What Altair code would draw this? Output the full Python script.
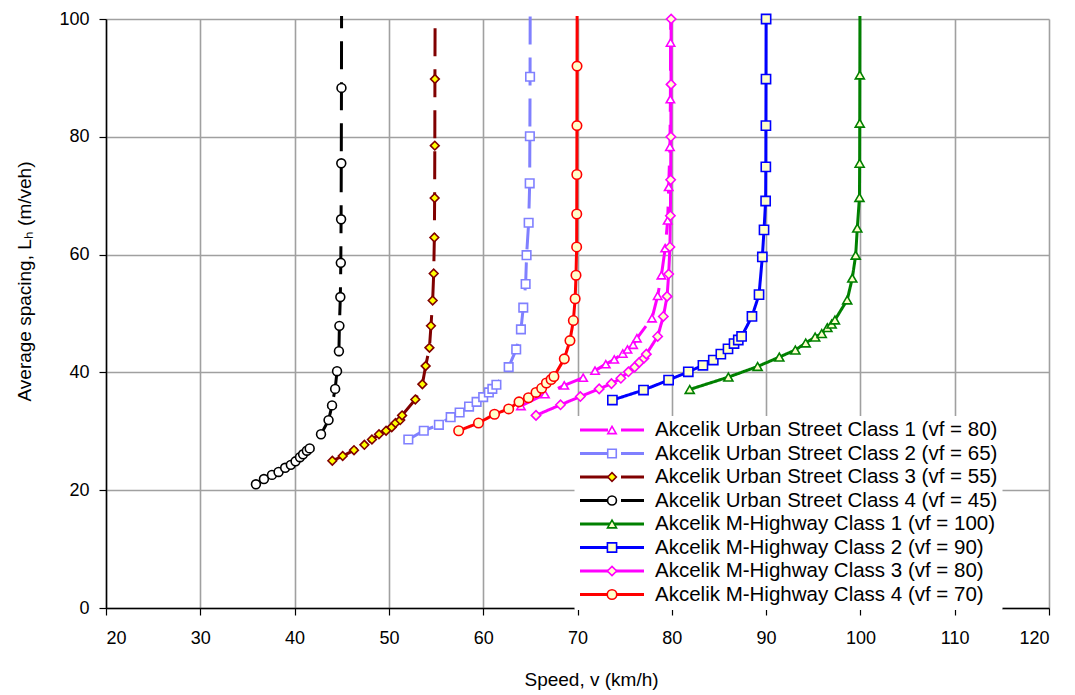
import altair as alt
import pandas as pd

# ---- series (legend order) ----
series = [
    "Akcelik Urban Street Class 1 (vf = 80)",
    "Akcelik Urban Street Class 2 (vf = 65)",
    "Akcelik Urban Street Class 3 (vf = 55)",
    "Akcelik Urban Street Class 4 (vf = 45)",
    "Akcelik M-Highway Class 1 (vf = 100)",
    "Akcelik M-Highway Class 2 (vf = 90)",
    "Akcelik M-Highway Class 3 (vf = 80)",
    "Akcelik M-Highway Class 4 (vf = 70)",
]

# speed (km/h) and spacing (m/veh)
us1_v = [64.0, 66.55, 68.6, 70.6, 71.86, 73.0, 73.9, 74.8, 75.3, 75.9, 76.3, 77.9, 78.5, 78.9, 79.3, 79.56, 79.67, 79.8, 79.85, 79.87]
us1_L = [34.3, 36.3, 37.8, 39.1, 40.3, 41.4, 42.2, 43.2, 43.9, 44.7, 45.8, 49.2, 53.0, 56.5, 61.1, 65.8, 71.5, 78.3, 86.4, 96.0]

us2_v = [52.06, 53.7, 55.3, 56.55, 57.5, 58.5, 59.3, 60.0, 60.6, 60.97, 61.4, 62.7, 63.5, 64.0, 64.25, 64.5, 64.6, 64.82, 64.93, 64.95, 64.97]
us2_L = [28.6, 30.1, 31.1, 32.4, 33.2, 34.2, 35.0, 35.8, 36.6, 37.2, 37.9, 40.9, 43.9, 47.3, 51.0, 55.0, 59.9, 65.4, 72.1, 80.1, 90.2]

us3_v = [44.0, 45.1, 46.3, 47.4, 48.2, 48.95, 49.7, 50.3, 50.7, 51.2, 51.4, 52.8, 53.55, 53.9, 54.3, 54.46, 54.64, 54.75, 54.82, 54.85, 54.87, 54.88]
us3_L = [25.0, 25.8, 26.8, 27.7, 28.6, 29.5, 30.1, 30.7, 31.4, 31.9, 32.7, 35.4, 38.0, 41.1, 44.2, 47.9, 52.2, 56.8, 62.9, 69.6, 78.5, 89.8]

us4_v = [35.9, 36.75, 37.6, 38.3, 39.0, 39.6, 40.1, 40.57, 40.9, 41.3, 41.6, 42.8, 43.6, 43.97, 44.3, 44.5, 44.7, 44.75, 44.85, 44.9, 44.93, 44.95, 44.97]
us4_L = [21.0, 21.9, 22.6, 23.1, 23.8, 24.3, 24.9, 25.6, 26.1, 26.7, 27.1, 29.5, 31.9, 34.4, 37.2, 40.2, 43.6, 47.9, 52.8, 58.6, 66.0, 75.5, 88.3]

mh1_v = [81.9, 86.0, 89.1, 91.4, 93.1, 94.2, 95.2, 95.9, 96.5, 96.95, 97.3, 98.6, 99.14, 99.5, 99.67, 99.9, 99.92, 99.93, 99.94]
mh1_L = [37.1, 39.2, 41.0, 42.6, 43.8, 45.0, 46.0, 46.6, 47.6, 48.2, 48.9, 52.3, 56.0, 59.9, 64.5, 69.7, 75.5, 82.3, 90.5]

mh2_v = [73.7, 77.0, 79.66, 81.75, 83.3, 84.4, 85.2, 85.96, 86.6, 87.05, 87.4, 88.5, 89.25, 89.6, 89.78, 89.95, 89.97, 89.98, 89.99, 90.0]
mh2_L = [35.3, 37.0, 38.7, 40.1, 41.2, 42.1, 43.1, 44.0, 44.9, 45.5, 46.1, 49.5, 53.2, 59.6, 64.2, 69.1, 74.9, 81.9, 89.8, 100.0]

mh3_v = [65.6, 68.2, 70.3, 72.3, 73.6, 74.6, 75.4, 76.06, 76.55, 77.05, 77.3, 78.5, 79.1, 79.5, 79.67, 79.8, 79.85, 79.88, 79.9, 79.92, 79.93]
mh3_L = [32.7, 34.5, 35.9, 37.2, 38.1, 39.0, 40.1, 40.9, 41.7, 42.4, 43.1, 46.1, 49.5, 52.9, 56.7, 61.3, 66.6, 72.7, 80.0, 88.9, 100.0]

mh4_v = [57.4, 59.5, 61.2, 62.7, 63.8, 64.8, 65.6, 66.2, 66.7, 67.2, 67.5, 68.6, 69.2, 69.56, 69.75, 69.84, 69.91, 69.92, 69.93, 69.94, 69.95]
mh4_L = [30.1, 31.4, 32.9, 33.8, 35.0, 35.7, 36.6, 37.3, 38.2, 38.8, 39.3, 42.3, 45.4, 48.8, 52.5, 56.5, 61.3, 66.9, 73.6, 81.9, 92.0]

# line continues to the top edge without a marker (None = no extra end)
end_v = [79.9, 64.98, 54.9, 44.98, 99.95, None, None, 69.96]
end_L = [100.5, 100.5, 100.5, 100.5, 100.5, None, None, 100.5]

all_v = [us1_v, us2_v, us3_v, us4_v, mh1_v, mh2_v, mh3_v, mh4_v]
all_L = [us1_L, us2_L, us3_L, us4_L, mh1_L, mh2_L, mh3_L, mh4_L]

# styles
line_colors = ["#FF00FF", "#8080FF", "#800000", "#000000", "#008000", "#0000FF", "#FF00FF", "#FF0000"]
dashes = [[28, 13], [28, 13], [28, 13], [28, 13], [1, 0], [1, 0], [1, 0], [1, 0]]
shapes = ["triangle-up", "square", "diamond", "circle", "triangle-up", "square", "diamond", "circle"]
fills = ["#FFFFFF", "#FFFFFF", "#FFFF00", "#FFFFFF", "#FFFFCC", "#FFFFCC", "#FFFFCC", "#FFFFCC"]
sizes = [70, 90, 40, 70, 70, 90, 45, 75]
marker_keys = [s + " " for s in series]

rows = []
for i, name in enumerate(series):
    k = 0
    for v, L in zip(all_v[i], all_L[i]):
        rows.append({"series": name, "mk": marker_keys[i], "v": v, "L": L, "idx": k, "marker": True})
        k += 1
    if end_v[i] is not None:
        rows.append({"series": name, "mk": marker_keys[i], "v": end_v[i], "L": end_L[i], "idx": k, "marker": False})
df = pd.DataFrame(rows)

LEG_FS = 20.5
LEG_Y = 397
line_legend = alt.Legend(title=None, orient="none", legendX=468.5, legendY=LEG_Y,
                         symbolType="stroke", symbolSize=4096, symbolStrokeWidth=3,
                         clipHeight=20, rowPadding=2.5, padding=4,
                         labelOffset=9.5, labelFontSize=LEG_FS, labelFont="Liberation Sans",
                         labelColor="black", labelLimit=600,
                         fillColor="white", strokeColor="white")
mk_legend = alt.Legend(title=None, orient="none", legendX=612 - 106 - 4 - LEG_FS / 2, legendY=LEG_Y,
                       clipHeight=20, rowPadding=2.5, padding=4,
                       labelFontSize=LEG_FS, labelFont="Liberation Sans", labelExpr="''",
                       labelLimit=600, symbolStrokeWidth=1.6, symbolOpacity=1)

x_enc = alt.X("v:Q", scale=alt.Scale(domain=[20, 120], nice=False, zero=False),
              axis=alt.Axis(title="Speed, v (km/h)", values=list(range(20, 121, 10)),
                            titleY=62, titleX=485))
y_enc = alt.Y("L:Q", scale=alt.Scale(domain=[0, 100], nice=False),
              axis=alt.Axis(title="Average spacing, Lₕ (m/veh)", values=list(range(0, 101, 20)),
                            titleX=-72, titleY=262))

lines = alt.Chart(df).mark_line(strokeWidth=3, clip=False).encode(
    x=x_enc,
    y=y_enc,
    order="idx:Q",
    color=alt.Color("series:N", scale=alt.Scale(domain=series, range=line_colors), legend=line_legend),
    strokeDash=alt.StrokeDash("series:N", scale=alt.Scale(domain=series, range=dashes), legend=line_legend),
)

points = alt.Chart(df).transform_filter("datum.marker").mark_point(filled=False, opacity=1, strokeWidth=1.6).encode(
    x="v:Q",
    y="L:Q",
    shape=alt.Shape("mk:N", scale=alt.Scale(domain=marker_keys, range=shapes), legend=mk_legend),
    fill=alt.Fill("mk:N", scale=alt.Scale(domain=marker_keys, range=fills), legend=mk_legend),
    stroke=alt.Stroke("mk:N", scale=alt.Scale(domain=marker_keys, range=line_colors), legend=mk_legend),
    size=alt.Size("mk:N", scale=alt.Scale(domain=marker_keys, range=sizes), legend=mk_legend),
)

chart = alt.layer(lines, points).properties(
    width=943, height=589,
    autosize=alt.AutoSizeParams(type="none"),
    padding={"left": 106, "top": 19, "right": 26, "bottom": 87},
    background="white",
).configure_view(stroke=None).configure_axis(
    labelFont="Liberation Sans", titleFont="Liberation Sans",
    labelFontSize=18, titleFontSize=19, labelColor="black", titleColor="black",
    titleFontWeight="normal",
    domainColor="black", domainWidth=1.5, tickColor="black", tickWidth=1.2, tickSize=7,
    gridColor="#A0A0A0", gridWidth=1.6,
).configure_axisX(labelPadding=14).configure_axisY(labelPadding=10)

chart.save("out.html", embed_options={"renderer": "svg", "actions": False})
